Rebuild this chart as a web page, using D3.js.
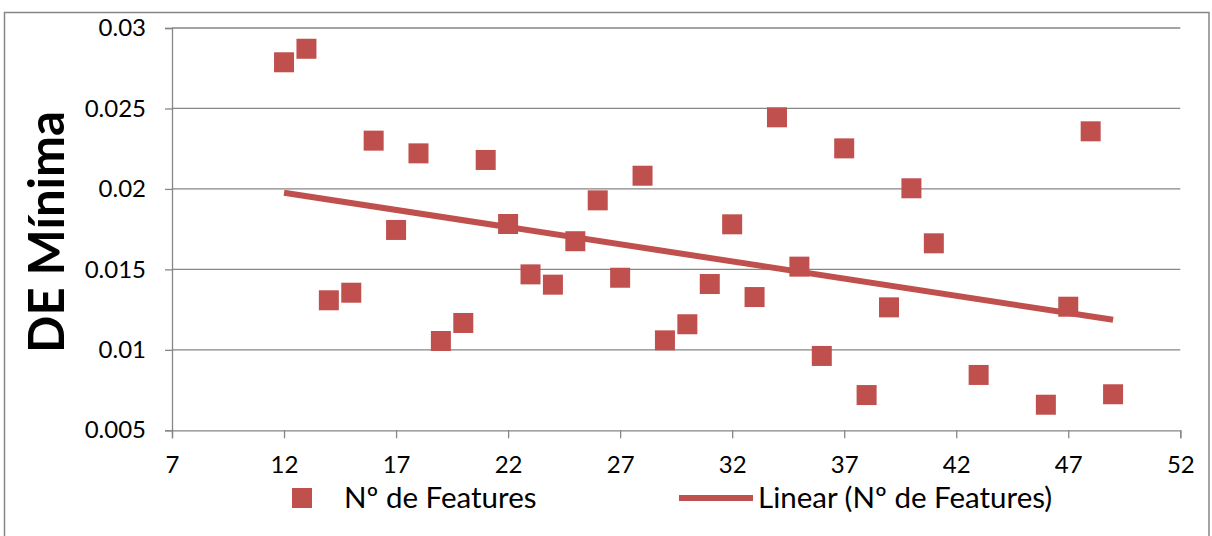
<!DOCTYPE html>
<html>
<head>
<meta charset="utf-8">
<script src="https://cdn.jsdelivr.net/npm/d3@7"></script>
<style>
  html, body { margin: 0; padding: 0; background: #fff; }
  svg { display: block; font-family: Lato, "Open Sans", sans-serif; }
</style>
</head>
<body>
<svg id="chart" width="1212" height="536"></svg>
<script>
// Number of features vs. minimum DE
const features = [12, 13, 14, 15, 16, 17, 18, 19, 20, 21, 22, 23, 24, 25, 26, 27, 28, 29, 30,
                  31, 32, 33, 34, 35, 36, 37, 38, 39, 40, 41, 43, 46, 47, 48, 49];
const deMinima = [0.02787, 0.02871, 0.01308, 0.01355, 0.02300, 0.01745, 0.02221, 0.01055, 0.01167,
                  0.02180, 0.01782, 0.01469, 0.01405, 0.01675, 0.01929, 0.01448, 0.02082, 0.01059,
                  0.01159, 0.01409, 0.01780, 0.01328, 0.02445, 0.01517, 0.00962, 0.02252, 0.00719,
                  0.01264, 0.02004, 0.01662, 0.00844, 0.00659, 0.01268, 0.02358, 0.00724];
const xTicks = [7, 12, 17, 22, 27, 32, 37, 42, 47, 52];
const yTicks = [0.005, 0.01, 0.015, 0.02, 0.025, 0.03];
const seriesName = "Nº de Features";
const trendName = "Linear (Nº de Features)";
const yTitle = "DE Mínima";

const color = "#C0504D";
const gridColor = "#868686";

const svg = d3.select("#chart");
const plot = { left: 172, right: 1180.3, top: 28, bottom: 430.3 };

const x = d3.scaleLinear().domain([7, 52]).range([plot.left, plot.right]);
const y = d3.scaleLinear().domain([0.005, 0.03]).range([plot.bottom, plot.top]);

const data = features.map((f, i) => ({ x: f, y: deMinima[i] }));

// Outer chart frame (open at the bottom edge)
svg.append("rect")
  .attr("x", 4.5).attr("y", 12.5)
  .attr("width", 1204.5).attr("height", 600)
  .attr("fill", "none").attr("stroke", gridColor).attr("stroke-width", 1.5);

// Horizontal gridlines
svg.append("g")
  .selectAll("line")
  .data(yTicks.slice(1))
  .join("line")
  .attr("x1", plot.left).attr("x2", plot.right)
  .attr("y1", d => y(d)).attr("y2", d => y(d))
  .attr("stroke", gridColor).attr("stroke-width", 1.3);

// Y axis
const yAxis = svg.append("g")
  .attr("transform", `translate(${plot.left},0)`)
  .call(d3.axisLeft(y).tickValues(yTicks).tickSize(7).tickPadding(19).tickFormat(d3.format("")));
// X axis
const xAxis = svg.append("g")
  .attr("transform", `translate(0,${plot.bottom})`)
  .call(d3.axisBottom(x).tickValues(xTicks).tickSize(8).tickPadding(18).tickFormat(d3.format("")));

[yAxis, xAxis].forEach(g => {
  g.select(".domain").attr("stroke", gridColor).attr("stroke-width", 1.3);
  g.selectAll(".tick line").attr("stroke", gridColor).attr("stroke-width", 1.3);
  g.selectAll(".tick text")
    .attr("fill", "#000")
    .style("font-family", "Lato, 'Open Sans', sans-serif")
    .style("font-size", "24px");
});

// Y axis title
svg.append("text")
  .attr("transform", `translate(64,232) rotate(-90)`)
  .attr("text-anchor", "middle")
  .style("font-size", "49px")
  .style("font-weight", "bold")
  .attr("fill", "#000")
  .text(yTitle);

// Least-squares trend line over the series
const mx = d3.mean(data, d => d.x), my = d3.mean(data, d => d.y);
const slope = d3.sum(data, d => (d.x - mx) * (d.y - my)) / d3.sum(data, d => (d.x - mx) ** 2);
const intercept = my - slope * mx;
const [xMin, xMax] = d3.extent(features);

svg.append("line")
  .attr("x1", x(xMin)).attr("y1", y(intercept + slope * xMin))
  .attr("x2", x(xMax)).attr("y2", y(intercept + slope * xMax))
  .attr("stroke", color).attr("stroke-width", 6);

// Markers
const size = 20;
svg.append("g")
  .selectAll("rect")
  .data(data)
  .join("rect")
  .attr("x", d => x(d.x) - size / 2)
  .attr("y", d => y(d.y) - size / 2)
  .attr("width", size).attr("height", size)
  .attr("fill", color);

// Legend
const legend = svg.append("g");
legend.append("rect")
  .attr("x", 292).attr("y", 488).attr("width", size).attr("height", size)
  .attr("fill", color);
legend.append("text")
  .attr("x", 344).attr("y", 508)
  .style("font-size", "29.5px").attr("fill", "#000")
  .text(seriesName);
legend.append("line")
  .attr("x1", 679).attr("x2", 753).attr("y1", 498).attr("y2", 498)
  .attr("stroke", color).attr("stroke-width", 6);
legend.append("text")
  .attr("x", 758).attr("y", 508)
  .style("font-size", "29.5px").attr("fill", "#000")
  .text(trendName);
</script>
</body>
</html>
